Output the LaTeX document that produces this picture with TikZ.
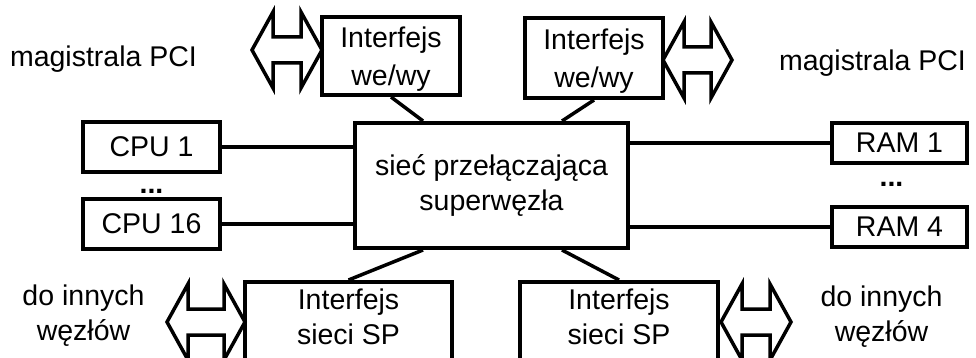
\documentclass[tikz,border=0pt]{standalone}
\usepackage{fontspec}
\setmainfont{Liberation Sans}
\usetikzlibrary{positioning}

\begin{document}
\begin{tikzpicture}[x=1pt,y=-1pt,
    node distance=80pt,on grid,
    box/.style={rectangle,draw,line width=4pt,inner sep=0pt,align=center,
      font=\fontsize{28.5pt}{35pt}\selectfont},
    iobox/.style={box,minimum width=138pt,text depth=0pt,
      font=\fontsize{28.5pt}{38pt}\selectfont},
    spbox/.style={box,anchor=north,inner ysep=7pt,text depth=75pt},
    txt/.style={inner sep=0pt,align=center,font=\fontsize{28.5pt}{35pt}\selectfont},
    wire/.style={line width=3.5pt},
    bus/.style={draw,line width=3.5pt,fill=white},
    pics/busarrow/.style={code={
      \path[bus] (0,0) -- (21,-38) -- (21,-13) -- (#1-21,-13) -- (#1-21,-38)
        -- (#1,0) -- (#1-21,38) -- (#1-21,13) -- (21,13) -- (21,38) -- cycle;
    }}]
  \useasboundingbox (0,0) rectangle (976,358);
  \clip (0,0) rectangle (976,358);

  \node[box,minimum width=273pt,minimum height=125pt] (net) at (491.5,185.5) {sieć przełączająca\\superwęzła};

  % processors on the left, memories on the right
  \node[box,minimum width=137pt,minimum height=50pt] (cpu1) at (151.5,147) {CPU 1};
  \node[box,minimum width=137pt,minimum height=50pt,below=77pt of cpu1] (cpu16) {CPU 16};
  \node[txt] (cpudots) at (151.5,191) {\textbf{...}};
  \node[box,minimum width=135pt,minimum height=40pt] (ram1) at (899.5,143) {RAM 1};
  \node[box,minimum width=135pt,minimum height=40pt,below=84pt of ram1] (ram4) {RAM 4};
  \node[txt] (ramdots) at (891.5,184.5) {\textbf{...}};

  \node[iobox,minimum height=78pt] (iotl) at (391,56) {Interfejs\\we/wy};
  \node[iobox,minimum height=80pt] (iotr) at (594,58) {Interfejs\\we/wy};
  \node[spbox,minimum width=207pt] (spl) at (348.5,280) {Interfejs\\sieci SP};
  \node[spbox,minimum width=198pt] (spr) at (619,280) {Interfejs\\sieci SP};

  \draw[wire] (cpu1.east) -- (cpu1.east -| net.west);
  \draw[wire] (cpu16.east) -- (cpu16.east -| net.west);
  \draw[wire] (ram1.west) -- (ram1.west -| net.east);
  \draw[wire] (ram4.west) -- (ram4.west -| net.east);
  \draw[wire] (iotl.south) -- ([xshift=70pt]net.north west);
  \draw[wire] (iotr.south) -- ([xshift=-68pt]net.north east);
  \draw[wire] (spl.north) -- ([xshift=70pt]net.south west);
  \draw[wire] (spr.north) -- ([xshift=-68pt]net.south east);

  % buses
  \pic at (252,50) {busarrow=70};
  \pic at (663,60) {busarrow=69};
  \pic at (167,322) {busarrow=78};
  \pic at (721,322) {busarrow=70};

  \node[txt,anchor=base] (pcil) at (103.5,67) {magistrala PCI};
  \node[txt,anchor=base] (pcir) at (872.5,71) {magistrala PCI};
  \node[txt] (nodesl) at (83.5,316) {do innych\\węzłów};
  \node[txt] (nodesr) at (881.5,317) {do innych\\węzłów};
\end{tikzpicture}
\end{document}
